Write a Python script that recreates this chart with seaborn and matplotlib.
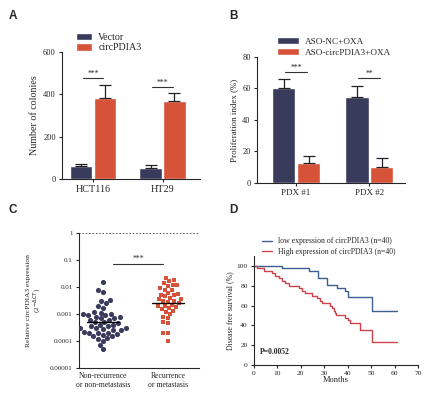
import pandas as pd
import seaborn as sns
import matplotlib.pyplot as plt

# A: colony formation
cells = ["HCT116", "HT29"]
colony_vector = [60, 50]
colony_vector_err = [10, 15]
colony_circ = [385, 370]
colony_circ_err = [60, 35]
colony_sig_y = [477, 435]
colony_sig = ["***", "***"]

# B: PDX proliferation
pdx = ["PDX #1", "PDX #2"]
prolif_nc = [60, 54.5]
prolif_nc_err = [6, 7]
prolif_aso = [13, 10]
prolif_aso_err = [4, 6]
prolif_sig_y = [70.5, 66.7]
prolif_sig = ["***", "**"]

# C: relative expression in tissues
expr_groups = ["Non-recurrence\nor non-metastasis", "Recurrence\nor metastasis"]
expr_nonrec = [0.0155, 0.0075, 0.0068, 0.0032, 0.0030, 0.0025, 0.0020, 0.0017,
               0.0012, 0.0011, 0.0010, 0.0010, 0.0009, 0.0009, 0.0008, 0.0008,
               0.0007, 0.0007, 0.0006, 0.0006, 0.0005, 0.0005, 0.00045, 0.0004,
               0.0004, 0.00035, 0.00035, 0.0003, 0.0003, 0.0003, 0.00028, 0.00025,
               0.00025, 0.00022, 0.0002, 0.0002, 0.0002, 0.00018, 0.00017, 0.00015,
               0.00015, 0.00013, 0.00012, 0.0001, 0.00007, 0.00005]
expr_rec = [0.022, 0.018, 0.016, 0.014, 0.012, 0.012, 0.011, 0.009, 0.008, 0.0075,
            0.006, 0.0055, 0.005, 0.005, 0.0045, 0.004, 0.0035, 0.0035, 0.003, 0.003,
            0.0028, 0.0025, 0.0022, 0.002, 0.002, 0.0018, 0.0016, 0.0015, 0.0013,
            0.0012, 0.001, 0.0008, 0.0007, 0.0005, 0.00045, 0.0002, 0.0002, 0.0001]
expr_median = [0.0005, 0.0025]
expr_ticks = [1e-5, 1e-4, 1e-3, 1e-2, 1e-1, 1]
expr_ticklabels = ["0.00001", "0.0001", "0.001", "0.01", "0.1", "1"]

# D: disease free survival
low_months = [0, 12, 23.3, 27.5, 31, 35.3, 38.8, 40, 50.2, 61]
low_surv = [100, 97.5, 95, 87.5, 81, 78, 75, 69, 55, 55]
high_months = [0, 1.3, 4.1, 7.7, 9.1, 10.5, 12, 13.4, 14.8, 19.1, 20.5, 21.9, 24.7,
               26.9, 28.3, 29, 32.6, 33.3, 34, 34.7, 35.2, 38.8, 40, 41, 45.2, 50.2, 61]
high_surv = [100, 97.5, 95, 92.5, 90, 87.5, 85, 82.5, 80, 77.5, 75, 72.5, 70,
             67.5, 65, 62.5, 60, 57.5, 55, 52.5, 50, 47.5, 45, 42, 35, 23, 23]

navy = "#383b5c"
red = "#d6533a"

sns.set_theme(style="ticks")
plt.rcParams["font.family"] = ["Liberation Serif"]
plt.rcParams["axes.linewidth"] = 0.8
plt.rcParams["xtick.major.width"] = 0.8
plt.rcParams["ytick.major.width"] = 0.8
plt.rcParams["xtick.major.size"] = 2.5
plt.rcParams["ytick.major.size"] = 2.5
plt.rcParams["xtick.major.pad"] = 2
plt.rcParams["ytick.major.pad"] = 2

fig = plt.figure(figsize=(4.34, 3.93), dpi=100)
axA = fig.add_axes([0.1429, 0.5445, 0.318, 0.3232])
axB = fig.add_axes([0.5922, 0.5344, 0.341, 0.3206])
axC = fig.add_axes([0.182, 0.0636, 0.2765, 0.3435])
axD = fig.add_axes([0.5853, 0.0712, 0.3779, 0.2774])


def bar_panel(ax, cats, names, vals, errs, sig_y, sig):
    df = pd.DataFrame({"cat": cats * 2,
                       "grp": [names[0]] * len(cats) + [names[1]] * len(cats),
                       "val": vals[0] + vals[1]})
    sns.barplot(df, x="cat", y="val", hue="grp", palette=[navy, red],
                width=0.68, gap=0.05, errorbar=None, saturation=1, ax=ax)
    for cont, err in zip(list(ax.containers)[:2], errs):
        xs = [b.get_x() + b.get_width() / 2 for b in cont]
        hs = [b.get_height() for b in cont]
        ax.errorbar(xs, hs, yerr=[[0] * len(err), err], fmt="none",
                    ecolor="#222222", elinewidth=0.9, capsize=4, capthick=0.9)
    for i, (y, s) in enumerate(zip(sig_y, sig)):
        ax.plot([i - 0.15, i + 0.15], [y, y], color="#333333", lw=0.8)
        ax.text(i, y, s, ha="center", va="bottom", fontsize=5.5)
    ax.set_xlabel("")
    sns.despine(ax=ax)


bar_panel(axA, cells, ["Vector", "circPDIA3"], [colony_vector, colony_circ],
          [colony_vector_err, colony_circ_err], colony_sig_y, colony_sig)
axA.set_xlim(-0.447, 1.54)
axA.set_ylim(0, 600)
axA.set_yticks([0, 200, 400, 600])
axA.set_ylabel("Number of colonies", fontsize=7.2, labelpad=3)
axA.tick_params(axis="y", labelsize=6)
axA.tick_params(axis="x", labelsize=7.3)
sns.move_legend(axA, "lower left", bbox_to_anchor=(0.06, 0.95), frameon=False,
                title=None, fontsize=7.2, handlelength=1.6, handleheight=0.75,
                labelspacing=0.15, handletextpad=0.6, borderpad=0.1)

bar_panel(axB, pdx, ["ASO-NC+OXA", "ASO-circPDIA3+OXA"], [prolif_nc, prolif_aso],
          [prolif_nc_err, prolif_aso_err], prolif_sig_y, prolif_sig)
axB.set_xlim(-0.535, 1.49)
axB.set_ylim(0, 80)
axB.set_yticks([0, 20, 40, 60, 80])
axB.set_ylabel("Proliferation index (%)", fontsize=6.4, labelpad=3)
axB.tick_params(axis="y", labelsize=6)
axB.tick_params(axis="x", labelsize=6.5)
sns.move_legend(axB, "lower left", bbox_to_anchor=(0.1, 0.96), frameon=False,
                title=None, fontsize=6.6, handlelength=2.4, handleheight=0.8,
                labelspacing=0.25, handletextpad=0.6, borderpad=0.1)

# C
dfC = pd.DataFrame({"grp": [expr_groups[0]] * len(expr_nonrec) + [expr_groups[1]] * len(expr_rec),
                    "val": expr_nonrec + expr_rec})
sns.swarmplot(dfC[dfC.grp == expr_groups[0]], x="grp", y="val", order=expr_groups,
              color=navy, marker="o", size=3.7, linewidth=0, ax=axC, log_scale=True)
sns.swarmplot(dfC[dfC.grp == expr_groups[1]], x="grp", y="val", order=expr_groups,
              color=red, marker="s", size=3.3, linewidth=0, ax=axC)
for i, m in enumerate(expr_median):
    axC.plot([i - 0.25, i + 0.25], [m, m], color="black", lw=1.0, zorder=5)
axC.plot([0.15, 0.93], [0.07, 0.07], color="#333333", lw=0.8)
axC.text(0.54, 0.075, "***", ha="center", va="bottom", fontsize=5.5)
axC.axhline(1, color="#222222", ls=(0, (1, 1.2)), lw=1.1)
axC.set_xlim(-0.37, 1.48)
axC.set_ylim(1e-5, 1)
axC.set_yticks(expr_ticks, expr_ticklabels)
axC.minorticks_off()
axC.tick_params(axis="y", labelsize=5)
axC.tick_params(axis="x", labelsize=5.6, length=0, pad=3)
axC.set_xlabel("")
axC.set_ylabel("Relative circPDIA3 expression\n(2$^{-\\Delta CT}$)", fontsize=5.4, labelpad=4)
sns.despine(ax=axC)

# D
sns.lineplot(x=low_months, y=low_surv, drawstyle="steps-post", color="#3b5f91", lw=1.0,
             estimator=None, label="low expression of circPDIA3 (n=40)", ax=axD)
sns.lineplot(x=high_months, y=high_surv, drawstyle="steps-post", color="#cc434b", lw=1.0,
             estimator=None, label="High expression of circPDIA3 (n=40)", ax=axD)
axD.set_xlim(0, 70)
axD.set_ylim(0, 110)
axD.set_xticks(range(0, 71, 10))
axD.set_yticks(range(0, 101, 20))
axD.tick_params(labelsize=5.4)
axD.set_xlabel("Months", fontsize=6, labelpad=0)
axD.set_ylabel("Disease free survival (%)", fontsize=5.6, labelpad=2)
axD.text(2.5, 13, "P=0.0052", fontsize=5.5, fontweight="bold", va="center")
axD.legend(loc="lower left", bbox_to_anchor=(0.02, 0.96), frameon=False, fontsize=5.6,
           handlelength=1.3, labelspacing=0.3, handletextpad=0.8, borderpad=0.1)
sns.despine(ax=axD)

for x, y, s in [(0.02, 0.96, "A"), (0.528, 0.96, "B"), (0.02, 0.465, "C"), (0.528, 0.465, "D")]:
    fig.text(x, y, s, fontsize=8.5, fontweight="bold", family="Liberation Sans", va="center")

fig.savefig("out.png", dpi=100)
